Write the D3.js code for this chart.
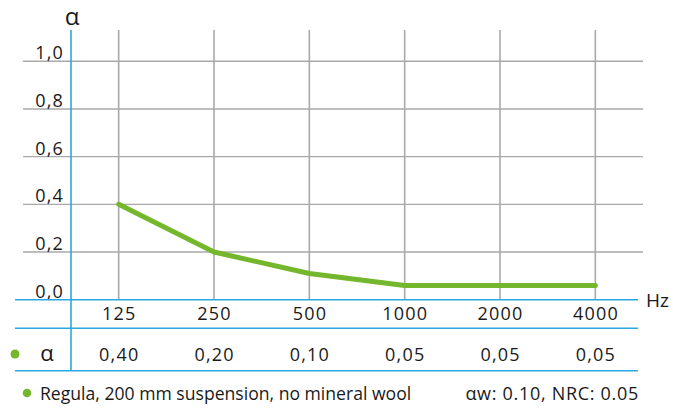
<!DOCTYPE html>
<html><head><meta charset="utf-8">
<script src="https://cdn.jsdelivr.net/npm/d3@7"></script>
<style>
html,body{margin:0;padding:0;background:#fff;}
svg{display:block;}
text{font-family:"Open Sans",Lato,sans-serif;fill:#1a1a1a;}
.num{letter-spacing:1.2px;}
</style></head>
<body><svg id="c" width="673" height="412"></svg>
<script>
const frequencies = ["125","250","500","1000","2000","4000"];
const alphaCurve = [0.40, 0.20, 0.11, 0.06, 0.06, 0.06];
const alphaTable = ["0,40","0,20","0,10","0,05","0,05","0,05"];
const yTicks = [0, 0.2, 0.4, 0.6, 0.8, 1.0];
const legendText = "Regula, 200 mm suspension, no mineral wool";
const ratingText = "αw: 0.10, NRC: 0.05";

const blue = "#29a8e0", grid = "#a9a9a9", green = "#74b72c";
const svg = d3.select("#c");
const x = d3.scalePoint().domain(frequencies).range([71, 643]).padding(0.5);
const y = d3.scaleLinear().domain([0, 1]).range([299.7, 61.3]);

// horizontal grid
svg.append("g").selectAll("line").data(yTicks.filter(d => d > 0)).join("line")
  .attr("x1", 23).attr("x2", 643).attr("y1", d => y(d)).attr("y2", d => y(d))
  .attr("stroke", grid).attr("stroke-width", 1.4);
// vertical grid
svg.append("g").selectAll("line").data(frequencies).join("line")
  .attr("x1", d => x(d)).attr("x2", d => x(d)).attr("y1", 30).attr("y2", 299.7)
  .attr("stroke", grid).attr("stroke-width", 1.6);

// y tick labels
svg.append("g").selectAll("text").data(yTicks).join("text")
  .attr("class", "num")
  .attr("x", 64).attr("y", d => y(d) - 2).attr("text-anchor", "end")
  .attr("font-size", 18).text(d => d3.format(".1f")(d).replace(".", ","));

// alpha axis title
svg.append("text").attr("x", 72).attr("y", 25).attr("text-anchor", "middle")
  .attr("font-size", 24).text("α");

// blue table lines
[299.7, 328.3, 370.7].forEach(v => {
  svg.append("line").attr("x1", 15).attr("x2", 638).attr("y1", v).attr("y2", v)
    .attr("stroke", blue).attr("stroke-width", 1.6);
});
svg.append("line").attr("x1", 71).attr("x2", 71).attr("y1", 30).attr("y2", 371)
  .attr("stroke", blue).attr("stroke-width", 1.6);

svg.append("text").attr("x", 646).attr("y", 306.5).attr("font-size", 19).text("Hz");

// x tick labels
svg.append("g").selectAll("text").data(frequencies).join("text")
  .attr("class", "num")
  .attr("x", d => x(d) + 0.6).attr("y", 320).attr("text-anchor", "middle")
  .attr("font-size", 18).text(d => d);

// table row
svg.append("circle").attr("cx", 15).attr("cy", 354).attr("r", 4.5).attr("fill", green);
svg.append("text").attr("x", 47).attr("y", 361).attr("text-anchor", "middle")
  .attr("font-size", 22).text("α");
svg.append("g").selectAll("text").data(alphaTable).join("text")
  .attr("class", "num")
  .attr("x", (d, i) => x(frequencies[i]) + 0.6).attr("y", 361).attr("text-anchor", "middle")
  .attr("font-size", 18).text(d => d);

// curve
const line = d3.line().x((d, i) => x(frequencies[i])).y(d => y(d));
svg.append("path").datum(alphaCurve).attr("d", line).attr("fill", "none")
  .attr("stroke", green).attr("stroke-width", 5).attr("stroke-linecap", "round")
  .attr("stroke-linejoin", "round");

// legend
svg.append("circle").attr("cx", 27).attr("cy", 393).attr("r", 4.3).attr("fill", green);
svg.append("text").attr("x", 40).attr("y", 400).attr("font-size", 17.6).text(legendText);
svg.append("text").attr("x", 639).attr("y", 400).attr("text-anchor", "end")
  .attr("font-size", 18).attr("letter-spacing", 0.7).text(ratingText);
</script></body></html>
